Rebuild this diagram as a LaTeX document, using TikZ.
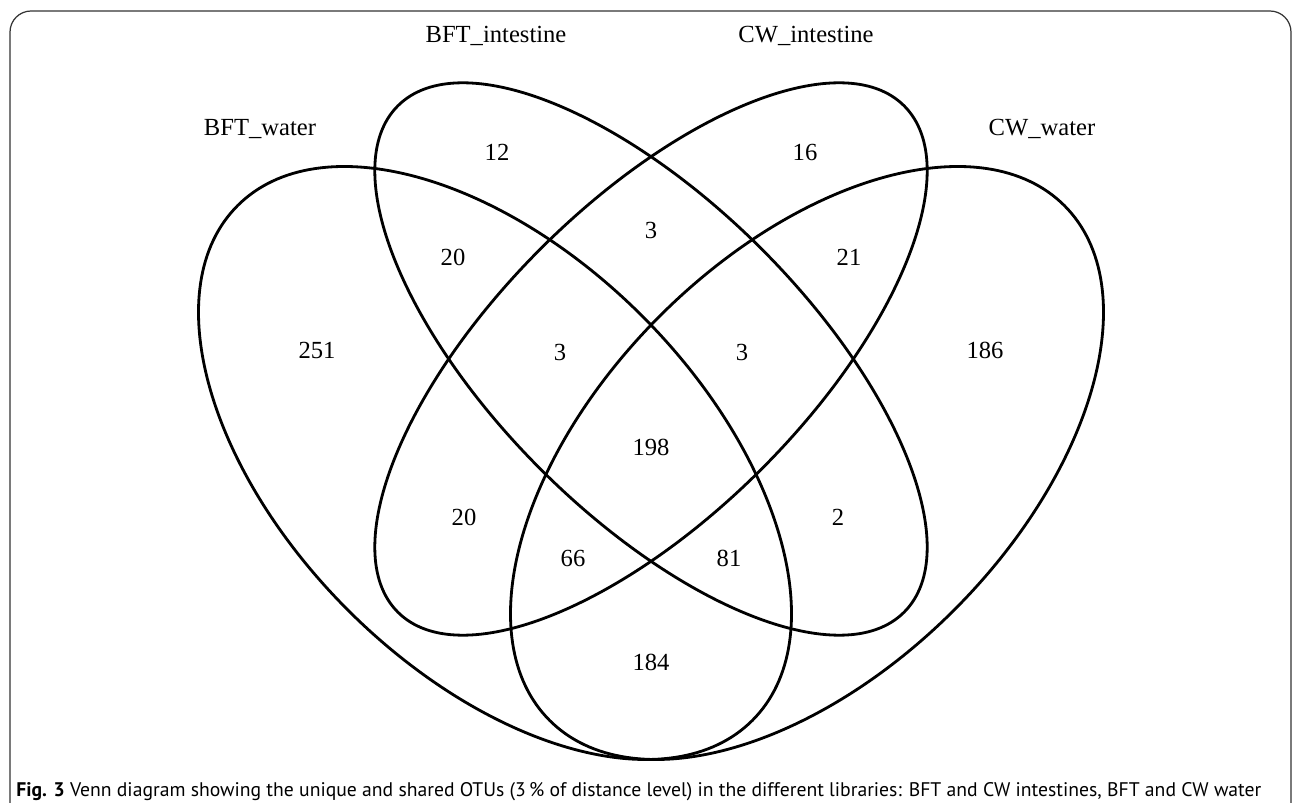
\documentclass[tikz,border=0pt]{standalone}
\usepackage{fontspec}
\setmainfont{Liberation Serif}
\newfontfamily\capfont{PT Sans}

\begin{document}
\begin{tikzpicture}[x=0.02cm, y=-0.02cm,
    set/.style={line width=1.6pt},
    count/.style={font=\fontsize{14}{16}\selectfont, inner sep=0pt},
    setname/.style={font=\fontsize{14}{16}\selectfont, inner sep=0pt}]
    % Page size and the frame round the figure
    \useasboundingbox (0,0) rectangle (1292,803);
    \begin{scope}
        \clip (0,0) rectangle (1292,803);
        \draw [line width=0.7pt, black!80, rounded corners=12] (10,11) rectangle (1291,840);
    \end{scope}

    % Now the four ellipses
    \draw [set, rotate around={-45:(495,463)}] (495,463) ellipse [x radius=364, y radius=208];
    \draw [set, rotate around={-45:(651,359)}] (651,359) ellipse [x radius=358, y radius=156];
    \draw [set, rotate around={45:(651,359)}]  (651,359) ellipse [x radius=358, y radius=156];
    \draw [set, rotate around={45:(807,463)}]  (807,463) ellipse [x radius=364, y radius=208];

    % Set names
    \node [setname] (bftw) at (260,129) {BFT\_water};
    \node [setname] (bfti) at (496,36)  {BFT\_intestine};
    \node [setname] (cwi)  at (806,36)  {CW\_intestine};
    \node [setname] (cww)  at (1042,129) {CW\_water};

    % Counts
    \node [count] (n12)  at (497,152) {12};
    \node [count] (n16)  at (805,152) {16};
    \node [count] (n3a)  at (651,230) {3};
    \node [count] (n20a) at (453,257) {20};
    \node [count] (n21)  at (849,257) {21};
    \node [count] (n251) at (317,350) {251};
    \node [count] (n3b)  at (560,352) {3};
    \node [count] (n3c)  at (742,352) {3};
    \node [count] (n186) at (985,350) {186};
    \node [count] (n198) at (651,447) {198};
    \node [count] (n20b) at (464,517) {20};
    \node [count] (n2)   at (838,517) {2};
    \node [count] (n66)  at (573,558) {66};
    \node [count] (n81)  at (729,558) {81};
    \node [count] (n184) at (651,662) {184};

    % Caption
    \node [anchor=base west, inner sep=0pt, font=\capfont\fontsize{11.2}{13}\selectfont] (caption) at (16,796)
        {\textbf{Fig. 3} Venn diagram showing the unique and shared OTUs (3\,\% of distance level) in the different libraries: BFT and CW intestines, BFT and CW water};
\end{tikzpicture}
\end{document}
